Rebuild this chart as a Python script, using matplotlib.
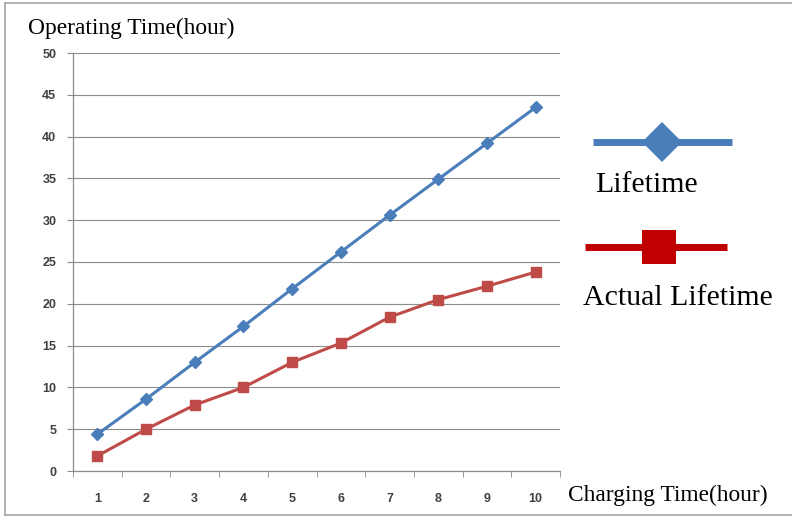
import matplotlib.pyplot as plt
from matplotlib.lines import Line2D
from matplotlib import ticker

# data
hours = [1, 2, 3, 4, 5, 6, 7, 8, 9, 10]
lifetime = [4.4, 8.6, 13.0, 17.3, 21.8, 26.2, 30.6, 34.9, 39.2, 43.5]
actual_lifetime = [1.8, 5.0, 7.9, 10.0, 13.0, 15.3, 18.4, 20.5, 22.1, 23.8]

blue = '#4a7ebb'
red = '#be4b48'
W, H = 792, 517

fig = plt.figure(figsize=(W / 100, H / 100), dpi=100)
ax = fig.add_axes([73 / W, 1 - 471 / H, (560 - 73) / W, (471 - 53) / H])

ax.plot(hours, lifetime, color=blue, lw=2.2, marker='D', ms=6, zorder=3)
ax.plot(hours, actual_lifetime, color=red, lw=2.2, marker='s', ms=7.5, zorder=3)

ax.set_xlim(0.5, 10.5)
ax.set_ylim(0, 50)
ax.yaxis.set_major_locator(ticker.MultipleLocator(5))
ax.xaxis.set_major_locator(ticker.FixedLocator(hours))
ax.xaxis.set_minor_locator(ticker.FixedLocator([h + 0.5 for h in [0] + hours]))

ax.grid(axis='y', color='#8c8c8c', lw=0.8)
ax.set_axisbelow(True)
for s in ['top', 'right']:
    ax.spines[s].set_visible(False)
for s in ['left', 'bottom']:
    ax.spines[s].set_color('#8c8c8c')
    ax.spines[s].set_linewidth(0.9)

tick_font = dict(family='Liberation Sans', size=9, weight='bold')
ax.tick_params(axis='y', length=4, color='#8c8c8c', pad=8, labelcolor='#404040')
ax.tick_params(axis='x', which='major', length=0, pad=16, labelcolor='#404040')
ax.tick_params(axis='x', which='minor', length=4, color='#8c8c8c')
for lab in ax.get_xticklabels() + ax.get_yticklabels():
    lab.set_fontproperties(tick_font)

serif = 'Liberation Serif'
fig.text(28 / W, 1 - 34 / H, 'Operating Time(hour)', family=serif, fontsize=16.8)
fig.text(568 / W, 1 - 501 / H, 'Charging Time(hour)', family=serif, fontsize=16.8)

# custom legend on the right
fig.add_artist(Line2D([593 / W, 732 / W], [1 - 142 / H] * 2, color=blue, lw=5,
                      solid_capstyle='butt'))
fig.add_artist(Line2D([662 / W], [1 - 142 / H], color=blue, marker='D', ms=20, mew=0))
fig.text(595 / W, 1 - 192 / H, 'Lifetime', family=serif, fontsize=21.5)
fig.add_artist(Line2D([585 / W, 727 / W], [1 - 247 / H] * 2, color='#c00000', lw=5,
                      solid_capstyle='butt'))
fig.add_artist(Line2D([659 / W], [1 - 247 / H], color='#c00000', marker='s', ms=25, mew=0))
fig.text(583 / W, 1 - 305 / H, 'Actual Lifetime', family=serif, fontsize=21.5)

# outer frame
frame = '#a6a6a6'
fig.add_artist(Line2D([5 / W, 1], [1 - 3 / H] * 2, color=frame, lw=1.2))
fig.add_artist(Line2D([5 / W] * 2, [1 - 3 / H, 1 - 515 / H], color=frame, lw=1.2))
fig.add_artist(Line2D([5 / W, 1], [1 - 515 / H] * 2, color=frame, lw=1.2))

fig.savefig('out.png', dpi=100)
